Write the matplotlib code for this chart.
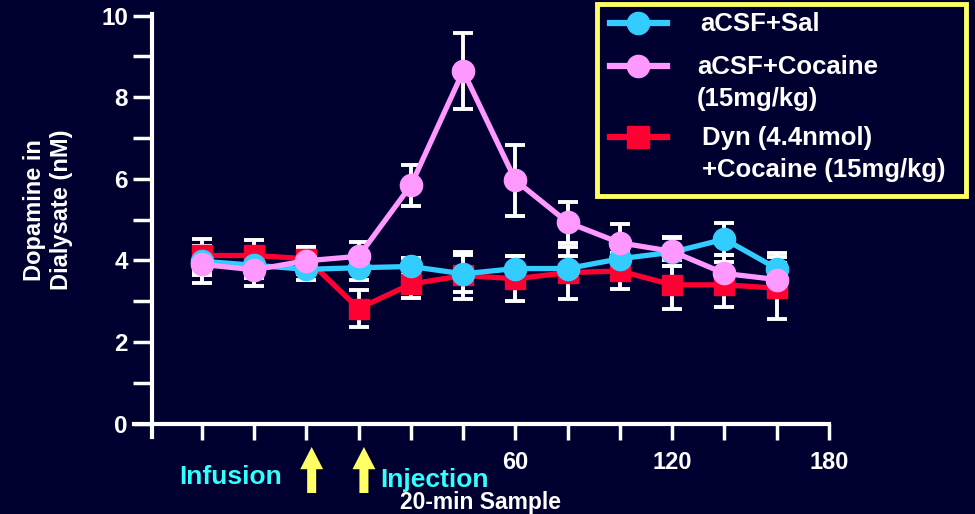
import matplotlib
matplotlib.use("Agg")
import matplotlib.pyplot as plt
from matplotlib.lines import Line2D
from matplotlib.patches import Rectangle
from matplotlib.transforms import blended_transform_factory

plt.rcParams['font.family'] = ['Liberation Sans', 'DejaVu Sans']
plt.rcParams['font.weight'] = 'bold'

# 20-min samples (min relative to injection)
minutes = [-60, -40, -20, 0, 20, 40, 60, 80, 100, 120, 140, 160]

sal = [3.98, 3.88, 3.78, 3.82, 3.85, 3.67, 3.80, 3.80, 4.04, 4.20, 4.52, 3.80]
sal_err = [0.35, 0.30, 0.25, 0.30, 0.20, 0.45, 0.30, 0.30, 0.35, 0.35, 0.39, 0.38]

coc = [3.90, 3.77, 3.99, 4.10, 5.84, 8.64, 5.96, 4.93, 4.43, 4.22, 3.68, 3.53]
coc_err = [0.45, 0.40, 0.33, 0.34, 0.51, 0.93, 0.86, 0.51, 0.47, 0.35, 0.45, 0.40]

dyn = [4.12, 4.12, 4.04, 2.82, 3.42, 3.63, 3.55, 3.70, 3.74, 3.40, 3.40, 3.32]
dyn_err = [0.40, 0.38, 0.30, 0.45, 0.35, 0.57, 0.55, 0.64, 0.45, 0.60, 0.55, 0.76]

xticks = [-60, -40, -20, 0, 20, 40, 60, 80, 100, 120, 140, 160, 180]
xticklabels = ['', '', '', '', '', '', '60', '', '', '120', '', '', '180']
arrow_x = [-18, 2]

bg = '#000030'
c_sal = '#33CCFF'
c_coc = '#FF99FF'
c_dyn = '#FF0033'
yellow = '#FFFF66'
cyan = '#33FFFF'

fig = plt.figure(figsize=(9.75, 5.14), dpi=100, facecolor=bg)
ax = fig.add_axes([134/975, 1-437/514, 695/975, 423/514], facecolor=bg)

# error bars under the markers
for y, e in [(dyn, dyn_err), (sal, sal_err), (coc, coc_err)]:
    ax.errorbar(minutes, y, yerr=e, fmt='none', ecolor='white', elinewidth=2.8,
                capsize=7, capthick=2.8, zorder=2)

ax.plot(minutes, dyn, color=c_dyn, lw=3.8, marker='s', ms=15, mfc=c_dyn, mec=c_dyn, zorder=3)
ax.plot(minutes, sal, color=c_sal, lw=3.8, marker='o', ms=16, mfc=c_sal, mec=c_sal, zorder=4)
ax.plot(minutes, coc, color=c_coc, lw=3.8, marker='o', ms=16, mfc=c_coc, mec=c_coc, zorder=5)

ax.set_xlim(-86, 180)
ax.set_ylim(-0.33, 10.04)

for s in ['top', 'right']:
    ax.spines[s].set_visible(False)
ax.spines['left'].set_position(('data', -79))
ax.spines['bottom'].set_position(('data', 0))
for s in ['left', 'bottom']:
    ax.spines[s].set_color('white')
    ax.spines[s].set_linewidth(3)

ax.set_yticks([0, 2, 4, 6, 8, 10])
ax.set_yticks([1, 3, 5, 7, 9], minor=True)
ax.tick_params(axis='y', which='both', direction='out', length=13.5, width=2.5,
               colors='white', labelsize=17.5, pad=4)
ax.set_xticks(xticks)
ax.set_xticklabels(xticklabels)
ax.tick_params(axis='x', direction='out', length=11.5, width=2.5, colors='white',
               labelsize=17, pad=8)
for lab in ax.get_xticklabels() + ax.get_yticklabels():
    lab.set_fontweight('bold')

# y label
fig.text(48/975, 1-210/514, 'Dopamine in\nDialysate (nM)', color='white', fontsize=17,
         fontweight='bold', rotation=90, ha='center', va='center', linespacing=1.25)

# bottom annotations
fig.text(231/975, 1-477/514, 'Infusion', color=cyan, fontsize=19, fontweight='bold',
         ha='center', va='center')
fig.text(380/975, 1-480/514, 'Injection', color=cyan, fontsize=19, fontweight='bold',
         ha='left', va='center')
fig.text(480/975, 1-503/514, '20-min Sample', color='white', fontsize=16.5, fontweight='bold',
         ha='center', va='center')

trans = blended_transform_factory(ax.transData, fig.transFigure)
for xa in arrow_x:
    ax.annotate('', xy=(xa, 1-447/514), xycoords=trans,
                xytext=(xa, 1-493/514), textcoords=trans, annotation_clip=False,
                arrowprops=dict(arrowstyle='simple,head_width=16.5,head_length=16,tail_width=6.5',
                                mutation_scale=1, fc=yellow, ec='none',
                                shrinkA=0, shrinkB=0))

# legend box
fig.patches.append(Rectangle((597/975, 1-196/514), 369/975, 192/514, transform=fig.transFigure,
                             facecolor=bg, edgecolor=yellow, lw=3.5, zorder=10))
entries = [
    (c_sal, 'o', 'aCSF+Sal', 23, 700),
    (c_coc, 'o', 'aCSF+Cocaine\n(15mg/kg)', 66, 697),
    (c_dyn, 's', 'Dyn (4.4nmol)\n+Cocaine (15mg/kg)', 137, 702),
]
for col, mk, lab, ypx, xt in entries:
    yf = 1 - ypx/514
    fig.add_artist(Line2D([610/975, 667/975], [yf, yf], color=col, lw=4.5, zorder=11))
    fig.add_artist(Line2D([638/975], [yf], color=col, marker=mk, ms=16, mec=col, zorder=12))
    if '\n' in lab:
        fig.text(xt/975, yf + 11/514, lab, color='white', fontsize=18.5, fontweight='bold',
                 ha='left', va='top', linespacing=1.42, zorder=12)
    else:
        fig.text(xt/975, yf - 1/514, lab, color='white', fontsize=18.5, fontweight='bold',
                 ha='left', va='center', zorder=12)

fig.savefig('out.png', dpi=100, facecolor=bg)
